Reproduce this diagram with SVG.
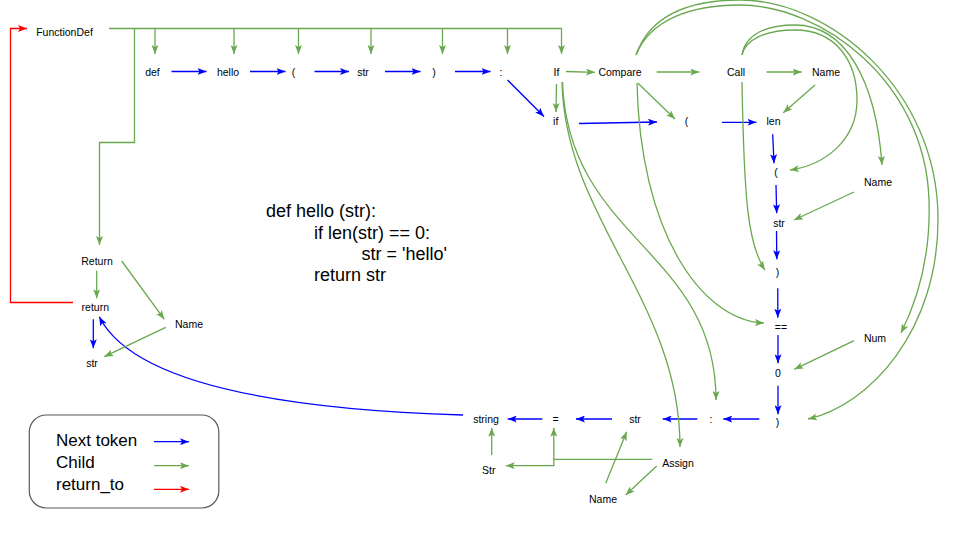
<svg xmlns="http://www.w3.org/2000/svg" width="960" height="540" viewBox="0 0 960 540">
<style>
.lbl{font-family:"Liberation Sans",Arial,sans-serif;font-size:10.5px;fill:#000;text-anchor:middle}
.code{font-family:"Liberation Sans",Arial,sans-serif;font-size:18px;fill:#000}
.leg{font-family:"Liberation Sans",Arial,sans-serif;font-size:17px;fill:#000}
.nb{stroke:#0000ff;stroke-width:1.3;fill:none;marker-end:url(#ab)}
.ch{stroke:#6aa84f;stroke-width:1.3;fill:none;marker-end:url(#ag)}
.chn{stroke:#6aa84f;stroke-width:1.3;fill:none}
.rt{stroke:#ff0000;stroke-width:1.3;fill:none;marker-end:url(#ar)}
</style>
<defs>
<marker id="ab" markerUnits="userSpaceOnUse" markerWidth="9" markerHeight="7" viewBox="0 0 9 7" refX="9" refY="3.5" orient="auto"><path d="M0,0 L9,3.5 L0,7 L2,3.5 z" fill="#0000ff"/></marker>
<marker id="ag" markerUnits="userSpaceOnUse" markerWidth="9" markerHeight="7" viewBox="0 0 9 7" refX="9" refY="3.5" orient="auto"><path d="M0,0 L9,3.5 L0,7 L2,3.5 z" fill="#6aa84f"/></marker>
<marker id="ar" markerUnits="userSpaceOnUse" markerWidth="9" markerHeight="7" viewBox="0 0 9 7" refX="9" refY="3.5" orient="auto"><path d="M0,0 L9,3.5 L0,7 L2,3.5 z" fill="#ff0000"/></marker>
</defs>
<rect width="960" height="540" fill="#fff"/>

<g id="connectors">
<!-- FunctionDef bus -->
<path class="chn" d="M109,28.5 H561.5"/>
<path class="ch" d="M155,28.5 V54"/>
<path class="ch" d="M234,28.5 V54"/>
<path class="ch" d="M298.5,28.5 V54"/>
<path class="ch" d="M371,28.5 V54"/>
<path class="ch" d="M442.5,28.5 V54"/>
<path class="ch" d="M507.5,28.5 V54"/>
<path class="ch" d="M561.5,28.5 V54"/>
<path class="ch" d="M134.5,28.5 V142.5 H99.5 V245"/>
<!-- return_to -->
<path class="rt" d="M73,302.5 H10.5 V28.5 H27"/>
<!-- next tokens row 1 -->
<path class="nb" d="M171.5,71.5 H206.5"/>
<path class="nb" d="M250,71.5 H285.5"/>
<path class="nb" d="M314.5,71.5 H349"/>
<path class="nb" d="M385,71.5 H420.5"/>
<path class="nb" d="M455,71.5 H490.5"/>
<path class="nb" d="M507.5,80 L544,116.5"/>
<path class="nb" d="M579,123.5 L657,122"/>
<path class="nb" d="M722,122.3 H756.5"/>
<path class="nb" d="M772.7,134.3 L774,163.3"/>
<path class="nb" d="M776,185 L776.7,213.3"/>
<path class="nb" d="M776.5,231 L776.8,259.3"/>
<path class="nb" d="M777.8,288.3 V317.7"/>
<path class="nb" d="M778,335 V363.3"/>
<path class="nb" d="M778,385.7 V414.3"/>
<path class="nb" d="M759.3,419 H723.3"/>
<path class="nb" d="M697.3,419 H662.7"/>
<path class="nb" d="M612,419 H576"/>
<path class="nb" d="M542.3,419 H507.7"/>
<path class="nb" d="M463,415 C300,410 135,388 99.3,316.7"/>
<path class="nb" d="M93.3,319.3 V348.3"/>
<!-- children straight -->
<path class="ch" d="M566,71.5 L595,72.3"/>
<path class="ch" d="M556.5,84 L556,112"/>
<path class="ch" d="M656.7,72 H699.3"/>
<path class="ch" d="M766.7,72 H801.7"/>
<path class="ch" d="M638,83.3 L675,119"/>
<path class="ch" d="M815,85 L783.3,112.7"/>
<path class="ch" d="M854,192 L794,220"/>
<path class="ch" d="M854,340.7 L794.3,369.3"/>
<path class="ch" d="M96.7,270.7 V298.3"/>
<path class="ch" d="M121.7,261 L164.3,319.3"/>
<path class="ch" d="M165.7,327.3 L104.3,356.7"/>
<path class="ch" d="M656.7,466 L625.7,495"/>
<path class="ch" d="M605.7,483.3 L626.7,431.7"/>
<path class="ch" d="M652.3,459.3 H553.8 V427.7"/>
<path class="ch" d="M553.8,459.3 V465.7 H505.7"/>
<path class="ch" d="M491.7,455 V427.7"/>
<!-- children curves -->
<path class="ch" d="M562,82 C565,220 680,300 680,447"/>
<path class="ch" d="M562.5,82 C568,240 716,250 716,400"/>
<path class="ch" d="M637,83 C640,230 700,320 764,323"/>
<path class="ch" d="M742,82 C744,200 748,245 765,270"/>
<path class="ch" d="M742,55 C745,40 765,30 795,30 C835,30 857,60 857,100 C857,140 825,165 790,170"/>
<path class="ch" d="M742,55 C745,35 765,25 795,25 C845,25 876,80 882,165"/>
<path class="ch" d="M636,55 C650,20 690,5 740,5 C820,5 925,80 929,200 C931,260 915,305 901,333"/>
<path class="ch" d="M636,55 C650,15 690,0 740,0 C830,0 937,90 938,217 C939,330 870,405 808,419"/>
<!-- legend arrows -->
<path class="nb" d="M154,441.7 H189"/>
<path class="ch" d="M154,465.7 H189"/>
<path class="rt" d="M154,489.3 H189"/>
</g>

<g id="n-functiondef"><text class="lbl" x="64.5" y="36">FunctionDef</text></g>
<g id="n-def"><text class="lbl" x="152.5" y="75.5">def</text></g>
<g id="n-hello"><text class="lbl" x="228" y="75.5">hello</text></g>
<g id="n-lparen1"><text class="lbl" x="293.5" y="75.5">(</text></g>
<g id="n-str1"><text class="lbl" x="363" y="75.5">str</text></g>
<g id="n-rparen1"><text class="lbl" x="434" y="75.5">)</text></g>
<g id="n-colon1"><text class="lbl" x="501" y="75.5">:</text></g>
<g id="n-If"><text class="lbl" x="556.5" y="75.5">If</text></g>
<g id="n-compare"><text class="lbl" x="620" y="75.5">Compare</text></g>
<g id="n-call"><text class="lbl" x="736" y="75.5">Call</text></g>
<g id="n-name1"><text class="lbl" x="826" y="75.5">Name</text></g>
<g id="n-if"><text class="lbl" x="555.7" y="124.5">if</text></g>
<g id="n-lparen2"><text class="lbl" x="686.5" y="125">(</text></g>
<g id="n-len"><text class="lbl" x="773.5" y="124.5">len</text></g>
<g id="n-lparen3"><text class="lbl" x="776" y="176">(</text></g>
<g id="n-name2"><text class="lbl" x="878" y="185.5">Name</text></g>
<g id="n-str2"><text class="lbl" x="779" y="226.7">str</text></g>
<g id="n-rparen2"><text class="lbl" x="777.5" y="276">)</text></g>
<g id="n-eq"><text class="lbl" x="781" y="330.5">==</text></g>
<g id="n-num"><text class="lbl" x="875" y="341.5">Num</text></g>
<g id="n-zero"><text class="lbl" x="778" y="376.5">0</text></g>
<g id="n-rparen3"><text class="lbl" x="777.5" y="425.5">)</text></g>
<g id="n-colon2"><text class="lbl" x="711" y="423">:</text></g>
<g id="n-str3"><text class="lbl" x="635" y="423">str</text></g>
<g id="n-assigneq"><text class="lbl" x="555.5" y="423">=</text></g>
<g id="n-string"><text class="lbl" x="486" y="423">string</text></g>
<g id="n-assign"><text class="lbl" x="678" y="466.5">Assign</text></g>
<g id="n-Str"><text class="lbl" x="488.7" y="473.5">Str</text></g>
<g id="n-name3"><text class="lbl" x="603" y="503">Name</text></g>
<g id="n-Return"><text class="lbl" x="97" y="265">Return</text></g>
<g id="n-return"><text class="lbl" x="95.3" y="311">return</text></g>
<g id="n-name4"><text class="lbl" x="189" y="327.5">Name</text></g>
<g id="n-str4"><text class="lbl" x="92" y="367">str</text></g>

<g id="code">
<text class="code" x="266" y="216.5">def hello (str):</text>
<text class="code" x="314" y="238.5">if len(str) == 0:</text>
<text class="code" x="361.5" y="260">str = 'hello'</text>
<text class="code" x="314" y="280.5">return str</text>
</g>

<g id="legend">
<rect x="29.3" y="415" width="189.5" height="93" rx="17" ry="17" fill="none" stroke="#595959" stroke-width="1.2"/>
<text class="leg" x="56" y="446">Next token</text>
<text class="leg" x="56" y="468">Child</text>
<text class="leg" x="56" y="489.5">return_to</text>
</g>
</svg>
